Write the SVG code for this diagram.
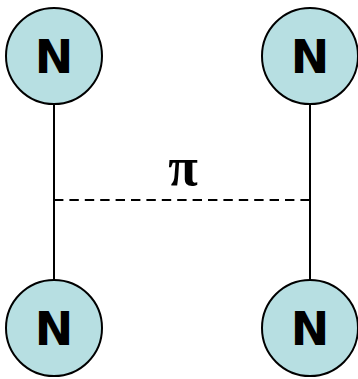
<svg xmlns="http://www.w3.org/2000/svg" width="358" height="379" viewBox="0 0 358 379">
<style>
.node circle{fill:#b7dfe2;stroke:#000;stroke-width:2}
.node text{font-family:"DejaVu Sans",sans-serif;font-weight:bold;font-size:46px;text-anchor:middle;fill:#000}
.edge{stroke:#000;stroke-width:2;fill:none}
.dash{stroke-dasharray:9.4 6}
.lbl{font-family:"Liberation Serif",serif;font-weight:bold;font-size:54px;text-anchor:middle}
</style>
<rect width="358" height="379" fill="#fff"/>
<g id="connectors">
<line class="edge" x1="54" y1="104" x2="54" y2="280"/>
<line class="edge" x1="310" y1="104" x2="310" y2="280"/>
<line class="edge dash" x1="54" y1="200" x2="310" y2="200"/>
<text class="lbl" x="183" y="185">π</text>
</g>
<g id="n1" class="node"><circle cx="54" cy="56" r="48"/><text x="54" y="73">N</text></g>
<g id="n2" class="node"><circle cx="310" cy="56" r="48"/><text x="310" y="73">N</text></g>
<g id="n3" class="node"><circle cx="54" cy="328" r="48"/><text x="54" y="345">N</text></g>
<g id="n4" class="node"><circle cx="310" cy="328" r="48"/><text x="310" y="345">N</text></g>
</svg>
